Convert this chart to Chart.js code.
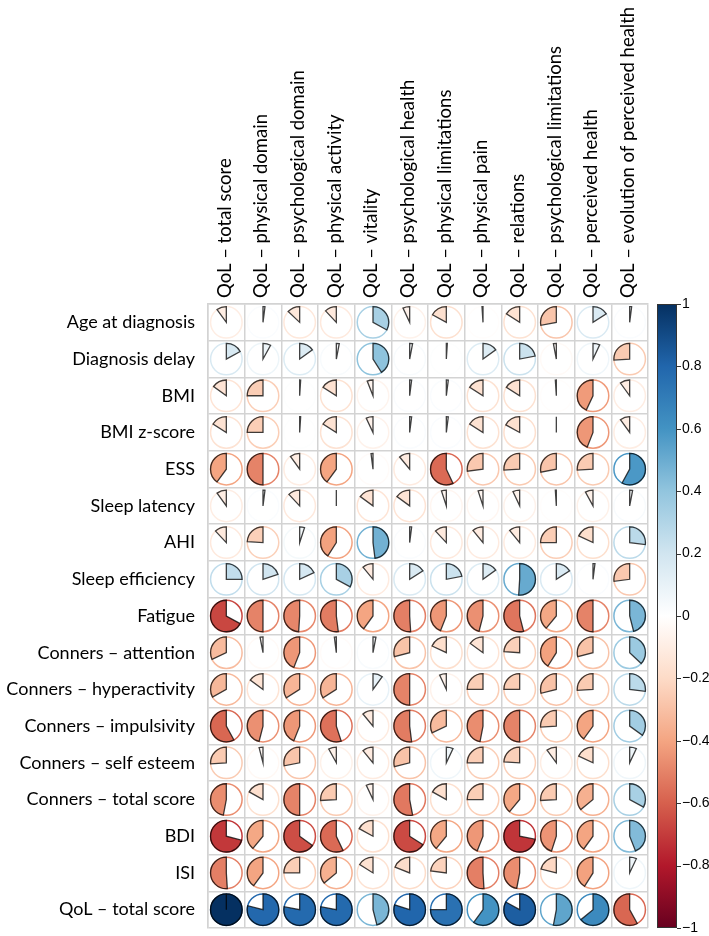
<!DOCTYPE html>
<html>
<head>
<meta charset="utf-8">
<script src="https://cdn.jsdelivr.net/npm/chart.js@4.4.1/dist/chart.umd.min.js"></script>
<style>
  body { margin: 0; background: #fff; }
  #wrap { width: 709px; height: 936px; }
</style>
</head>
<body>
<div id="wrap"><canvas id="corr"></canvas></div>
<script>
// column and row labels
var colLabels = ["QoL – total score", "QoL – physical domain", "QoL – psychological domain",
  "QoL – physical activity", "QoL – vitality", "QoL – psychological health",
  "QoL – physical limitations", "QoL – physical pain", "QoL – relations",
  "QoL – psychological limitations", "QoL – perceived health", "QoL – evolution of perceived health"];
var rowLabels = ["Age at diagnosis", "Diagnosis delay", "BMI", "BMI z-score", "ESS", "Sleep latency",
  "AHI", "Sleep efficiency", "Fatigue", "Conners – attention", "Conners – hyperactivity",
  "Conners – impulsivity", "Conners – self esteem", "Conners – total score", "BDI", "ISI",
  "QoL – total score"];

// correlations, one array per row (same order as colLabels)
var ageAtDiagnosis  = [-0.10, 0.02, -0.13, -0.12, 0.33, -0.07, -0.17, -0.01, -0.16, -0.28, 0.16, 0.02];
var diagnosisDelay  = [0.17, 0.08, 0.15, 0.03, 0.41, 0.03, 0.01, 0.15, 0.22, -0.03, 0.07, -0.26];
var bmi             = [-0.15, -0.25, 0.01, -0.16, -0.06, 0.02, 0.02, -0.16, -0.16, -0.01, -0.43, -0.10];
var bmiZ            = [-0.16, -0.25, 0.01, -0.16, -0.07, 0.02, 0.02, -0.16, -0.17, 0.00, -0.44, -0.10];
var ess             = [-0.40, -0.50, -0.10, -0.40, -0.02, -0.11, -0.57, -0.27, -0.26, -0.28, -0.26, 0.58];
var sleepLatency    = [-0.10, 0.02, -0.12, 0.00, -0.15, -0.15, -0.05, -0.05, -0.07, -0.01, -0.08, 0.03];
var ahi             = [-0.12, -0.24, 0.05, -0.41, 0.48, 0.02, -0.12, -0.11, -0.11, -0.25, -0.18, 0.27];
var sleepEfficiency = [0.25, 0.20, 0.18, 0.33, -0.11, 0.16, 0.22, 0.15, 0.51, 0.16, 0.02, -0.27];
var fatigue         = [-0.67, -0.50, -0.49, -0.52, -0.40, -0.51, -0.44, -0.46, -0.54, -0.39, -0.50, 0.46];
var connersAttn     = [-0.32, -0.03, -0.44, -0.02, 0.03, -0.29, -0.18, -0.15, -0.24, -0.41, -0.29, 0.37];
var connersHyper    = [-0.33, -0.15, -0.34, -0.34, 0.10, -0.50, -0.07, -0.25, -0.25, -0.29, -0.26, 0.27];
var connersImpuls   = [-0.58, -0.46, -0.44, -0.55, -0.11, -0.52, -0.32, -0.47, -0.50, -0.26, -0.40, 0.35];
var connersSelf     = [-0.26, -0.04, -0.28, -0.08, -0.11, -0.29, 0.07, -0.25, -0.24, -0.10, -0.18, 0.07];
var connersTotal    = [-0.47, -0.17, -0.50, -0.26, -0.07, -0.53, -0.17, -0.25, -0.39, -0.26, -0.36, 0.33];
var bdi             = [-0.71, -0.39, -0.65, -0.57, -0.17, -0.66, -0.39, -0.44, -0.72, -0.45, -0.40, 0.44];
var isi             = [-0.51, -0.40, -0.25, -0.36, -0.16, -0.19, -0.23, -0.51, -0.47, -0.21, -0.41, 0.07];
var qolTotal        = [1.00, 0.79, 0.78, 0.78, 0.46, 0.80, 0.75, 0.60, 0.83, 0.53, 0.64, -0.58];

var corrRows = [ageAtDiagnosis, diagnosisDelay, bmi, bmiZ, ess, sleepLatency, ahi, sleepEfficiency,
  fatigue, connersAttn, connersHyper, connersImpuls, connersSelf, connersTotal, bdi, isi, qolTotal];

// colour bar ticks
var barTicks = [-1, -0.8, -0.6, -0.4, -0.2, 0, 0.2, 0.4, 0.6, 0.8, 1];
// RdBu palette from -1 to 1
var palette = ["#67001F", "#B2182B", "#D6604D", "#F4A582", "#FDDBC7", "#FFFFFF",
  "#D1E5F0", "#92C5DE", "#4393C3", "#2166AC", "#053061"];

function hexToRgb(h) {
  return [parseInt(h.substr(1, 2), 16), parseInt(h.substr(3, 2), 16), parseInt(h.substr(5, 2), 16)];
}
function corrColor(v) {
  var t = (v + 1) / 2 * (palette.length - 1);
  var i = Math.min(Math.floor(t), palette.length - 2);
  var f = t - i;
  var a = hexToRgb(palette[i]), b = hexToRgb(palette[i + 1]);
  var c = a.map(function(x, k) { return Math.round(x + (b[k] - x) * f); });
  return "rgb(" + c.join(",") + ")";
}

var points = [];
corrRows.forEach(function(row, r) {
  row.forEach(function(v, c) {
    points.push({ x: colLabels[c], y: rowLabels[r], v: v });
  });
});

// draws the pie glyphs on the points and the colour bar
var piePlugin = {
  id: "pies",
  afterDatasetsDraw: function(chart) {
    var ctx = chart.ctx;
    var xs = chart.scales.x, ys = chart.scales.y;
    var cellW = xs.getPixelForValue(1) - xs.getPixelForValue(0);
    var cellH = ys.getPixelForValue(1) - ys.getPixelForValue(0);
    var rad = Math.min(Math.abs(cellW), Math.abs(cellH)) * 0.43;
    var meta = chart.getDatasetMeta(0);
    ctx.save();
    meta.data.forEach(function(el, i) {
      var v = points[i].v;
      var col = corrColor(v);
      // outline circle
      ctx.beginPath();
      ctx.arc(el.x, el.y, rad, 0, Math.PI * 2);
      ctx.strokeStyle = col;
      ctx.lineWidth = 1.5;
      ctx.stroke();
      // sector
      var start = -Math.PI / 2;
      var end = start + Math.PI * 2 * v;
      ctx.beginPath();
      ctx.moveTo(el.x, el.y);
      ctx.arc(el.x, el.y, rad, start, end, v < 0);
      ctx.closePath();
      ctx.fillStyle = col;
      ctx.fill();
      ctx.strokeStyle = "rgba(0,0,0,0.75)";
      ctx.lineWidth = 1.3;
      ctx.stroke();
    });

    // colour bar
    var bs = chart.scales.bar;
    var x0 = chart.chartArea.right + 9, x1 = x0 + 20;
    var yTop = bs.getPixelForValue(1), yBot = bs.getPixelForValue(-1);
    var grad = ctx.createLinearGradient(0, yBot, 0, yTop);
    palette.forEach(function(p, k) { grad.addColorStop(k / (palette.length - 1), p); });
    ctx.fillStyle = grad;
    ctx.fillRect(x0, yTop, x1 - x0, yBot - yTop);
    ctx.strokeStyle = "#333";
    ctx.lineWidth = 1;
    ctx.strokeRect(x0 + 0.5, yTop + 0.5, x1 - x0 - 1, yBot - yTop - 1);
    barTicks.forEach(function(t) {
      var y = Math.round(bs.getPixelForValue(t)) + 0.5;
      ctx.beginPath();
      ctx.moveTo(x1, y);
      ctx.lineTo(x1 + 4, y);
      ctx.stroke();
    });
    ctx.restore();
  }
};

var gridOpts = { offset: true, color: "#d3d3d3", lineWidth: 1.5, drawTicks: false };

// keep label overhang from shrinking the plot area
function noPad(s) { s.paddingTop = 0; s.paddingBottom = 0; }

new Chart(document.getElementById("corr"), {
  type: "scatter",
  data: {
    datasets: [{
      data: points,
      pointRadius: 0,
      pointHoverRadius: 0
    }]
  },
  options: {
    responsive: true,
    maintainAspectRatio: false,
    animation: false,
    layout: { padding: { top: 0, left: 0, right: 0, bottom: 8 } },
    plugins: { legend: { display: false }, tooltip: { enabled: false } },
    scales: {
      x: {
        type: "category",
        position: "top",
        labels: colLabels,
        offset: true,
        grid: gridOpts,
        border: { display: true, color: "#d3d3d3", width: 1.5 },
        ticks: { minRotation: 90, maxRotation: 90, autoSkip: false, padding: 6, labelOffset: 20.5,
                 color: "#000", font: { family: "Lato", size: 18.5 } },
        afterFit: function(s) { s.height = 304; s.paddingLeft = 0; s.paddingRight = 0; }
      },
      y: {
        type: "category",
        position: "left",
        labels: rowLabels,
        offset: true,
        grid: gridOpts,
        border: { display: true, color: "#d3d3d3", width: 1.5 },
        ticks: { autoSkip: false, padding: 13, color: "#000", font: { family: "Lato", size: 18 } },
        afterFit: function(s) { s.width = 208; noPad(s); }
      },
      bar: {
        type: "linear",
        position: "right",
        min: -1,
        max: 1,
        grid: { display: false, drawTicks: false },
        border: { display: false },
        afterBuildTicks: function(s) { s.ticks = barTicks.map(function(t) { return { value: t }; }); },
        ticks: {
          padding: 34,
          color: "#000",
          font: { family: "Liberation Sans", size: 14 },
          callback: function(v) {
            if (Math.abs(v) < 1e-9) return "0";
            return (v < 0 ? "\u2212" : "") + parseFloat(Math.abs(v).toFixed(1));
          }
        },
        afterFit: function(s) { s.width = 61; noPad(s); }
      }
    }
  },
  plugins: [piePlugin]
});
</script>
</body>
</html>
